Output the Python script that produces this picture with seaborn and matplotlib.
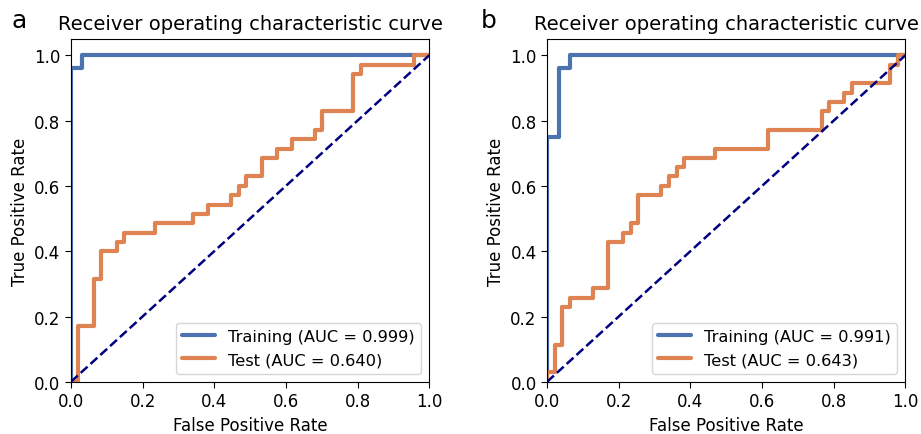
import numpy as np
import pandas as pd
import matplotlib
matplotlib.use("Agg")
import matplotlib.pyplot as plt
import seaborn as sns

# ROC curve vertices
# panel a
train_fpr_a = [0.0, 0.0, 0.031, 0.031, 1.0]
train_tpr_a = [0.0, 0.96, 0.96, 1.0, 1.0]
test_fpr_a = [0.0, 0.021, 0.021, 0.064, 0.064, 0.085, 0.085, 0.128, 0.128, 0.149,
              0.149, 0.234, 0.234, 0.340, 0.340, 0.383, 0.383, 0.447, 0.447, 0.468,
              0.468, 0.489, 0.489, 0.532, 0.532, 0.574, 0.574, 0.617, 0.617, 0.681,
              0.681, 0.702, 0.702, 0.787, 0.787, 0.809, 0.809, 0.957, 0.957, 1.0]
test_tpr_a = [0.0, 0.0, 0.171, 0.171, 0.314, 0.314, 0.400, 0.400, 0.429, 0.429,
              0.457, 0.457, 0.486, 0.486, 0.514, 0.514, 0.543, 0.543, 0.571, 0.571,
              0.600, 0.600, 0.629, 0.629, 0.686, 0.686, 0.714, 0.714, 0.743, 0.743,
              0.771, 0.771, 0.829, 0.829, 0.943, 0.943, 0.971, 0.971, 1.0, 1.0]
auc_a = (0.999, 0.640)

# panel b
train_fpr_b = [0.0, 0.0, 0.033, 0.033, 0.065, 0.065, 1.0]
train_tpr_b = [0.0, 0.75, 0.75, 0.96, 0.96, 1.0, 1.0]
test_fpr_b = [0.0, 0.0, 0.021, 0.021, 0.043, 0.043, 0.064, 0.064, 0.128, 0.128,
              0.170, 0.170, 0.213, 0.213, 0.234, 0.234, 0.255, 0.255, 0.319, 0.319,
              0.340, 0.340, 0.362, 0.362, 0.383, 0.383, 0.468, 0.468, 0.617, 0.617,
              0.766, 0.766, 0.787, 0.787, 0.830, 0.830, 0.851, 0.851, 0.957, 0.957,
              0.979, 0.979, 1.0]
test_tpr_b = [0.0, 0.029, 0.029, 0.114, 0.114, 0.229, 0.229, 0.257, 0.257, 0.286,
              0.286, 0.429, 0.429, 0.457, 0.457, 0.486, 0.486, 0.571, 0.571, 0.600,
              0.600, 0.629, 0.629, 0.657, 0.657, 0.686, 0.686, 0.714, 0.714, 0.771,
              0.771, 0.829, 0.829, 0.857, 0.857, 0.886, 0.886, 0.914, 0.914, 0.971,
              0.971, 1.0, 1.0]
auc_b = (0.991, 0.643)

sns.set_theme(style="ticks")
plt.rcParams['font.family'] = ['DejaVu Sans']
plt.rcParams['text.color'] = 'black'
plt.rcParams['axes.labelcolor'] = 'black'
plt.rcParams['xtick.color'] = 'black'
plt.rcParams['ytick.color'] = 'black'

pal = sns.color_palette("deep")

fig = plt.figure(figsize=(9.21, 4.35), dpi=100)
ax1 = fig.add_axes([0.077, 0.120, 0.389, 0.788])
ax2 = fig.add_axes([0.594, 0.120, 0.389, 0.788])

panels = [
    (ax1, "a", 0.012, train_fpr_a, train_tpr_a, test_fpr_a, test_tpr_a, auc_a),
    (ax2, "b", 0.522, train_fpr_b, train_tpr_b, test_fpr_b, test_tpr_b, auc_b),
]

for ax, letter, lx, trf, trt, tef, tet, auc in panels:
    sns.lineplot(x=trf, y=trt, sort=False, estimator=None, ax=ax, color=pal[0], lw=3,
                 label="Training (AUC = %.3f)" % auc[0])
    sns.lineplot(x=tef, y=tet, sort=False, estimator=None, ax=ax, color=pal[1], lw=3,
                 label="Test (AUC = %.3f)" % auc[1])
    ax.plot([0, 1], [0, 1], color="navy", lw=1.8, linestyle="--")
    ax.set_xlim(0.0, 1.0)
    ax.set_ylim(0.0, 1.05)
    ax.set_xlabel("False Positive Rate", fontsize=12)
    ax.set_ylabel("True Positive Rate", fontsize=12)
    ax.set_title("Receiver operating characteristic curve", fontsize=14, pad=7)
    ax.tick_params(labelsize=12, length=4, width=0.8)
    for s in ax.spines.values():
        s.set_linewidth(0.8)
        s.set_color("black")
    ax.legend(loc="lower right", fontsize=11.7, framealpha=0.8, edgecolor="#cccccc",
              fancybox=True)
    fig.text(lx, 0.936, letter, fontsize=18, va="baseline", ha="left")

fig.savefig("out.png", dpi=100)
